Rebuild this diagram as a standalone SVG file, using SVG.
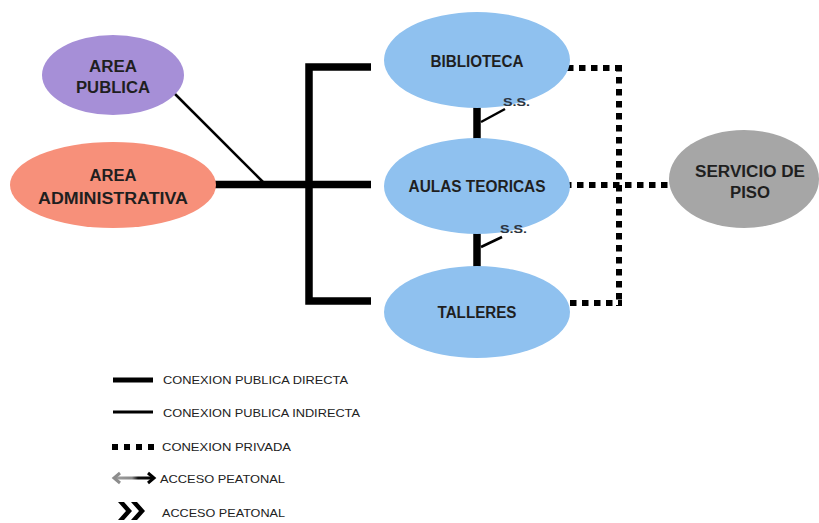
<svg xmlns="http://www.w3.org/2000/svg" width="819" height="523" viewBox="0 0 819 523">
<defs>
<style>
.lbl{font-family:"Liberation Sans",Arial,sans-serif;font-weight:bold;font-size:16px;fill:#1f1f1f;text-anchor:middle}
.ss{font-family:"Liberation Sans",Arial,sans-serif;font-weight:bold;font-size:11.5px;fill:#2b3440}
.leg{font-family:"Liberation Sans",Arial,sans-serif;font-size:11.5px;fill:#222}
.thick{stroke:#000;stroke-width:7.5;fill:none}
.thin{stroke:#000;stroke-width:2.5;fill:none}
.dot{stroke:#000;stroke-width:6;stroke-dasharray:6.5 5.5;fill:none}
</style>
<linearGradient id="ag" gradientUnits="userSpaceOnUse" x1="114" y1="478" x2="154" y2="478">
<stop offset="0" stop-color="#a0a0a0"/>
<stop offset="0.45" stop-color="#8a8a8a"/>
<stop offset="0.6" stop-color="#111"/>
<stop offset="1" stop-color="#000"/>
</linearGradient>
</defs>
<rect width="819" height="523" fill="#fff"/>

<g id="connectors">
<line class="thin" x1="158" y1="77" x2="263" y2="182"/>
<line class="thick" x1="213" y1="184.5" x2="371" y2="184.5"/>
<polyline class="thick" points="371,67 309,67 309,301 371,301"/>
<line class="thick" x1="477" y1="103" x2="477" y2="143"/>
<line class="thin" x1="481" y1="122" x2="505" y2="109"/>
<line class="thick" x1="477" y1="228" x2="477" y2="268"/>
<line class="thin" x1="481" y1="247" x2="502" y2="237"/>
<line class="dot" x1="555" y1="68" x2="622" y2="68"/>
<line class="dot" x1="619" y1="65" x2="619" y2="306"/>
<line class="dot" x1="558" y1="303" x2="622" y2="303"/>
<line class="dot" x1="565" y1="185" x2="682" y2="185"/>
</g>

<g id="area-publica">
<ellipse cx="113" cy="75" rx="71" ry="40" fill="#a68fd7"/>
<text class="lbl" x="113" y="72" textLength="48" lengthAdjust="spacingAndGlyphs">AREA</text>
<text class="lbl" x="113" y="93" textLength="74" lengthAdjust="spacingAndGlyphs">PUBLICA</text>
</g>

<g id="area-administrativa">
<ellipse cx="113" cy="185" rx="103" ry="43" fill="#f7907a"/>
<text class="lbl" x="113" y="181" textLength="47" lengthAdjust="spacingAndGlyphs">AREA</text>
<text class="lbl" x="113" y="204" textLength="150" lengthAdjust="spacingAndGlyphs">ADMINISTRATIVA</text>
</g>

<g id="biblioteca">
<ellipse cx="477" cy="60" rx="93" ry="48" fill="#8fc1ef"/>
<text class="lbl" x="477" y="67" textLength="93" lengthAdjust="spacingAndGlyphs">BIBLIOTECA</text>
</g>

<g id="aulas-teoricas">
<ellipse cx="477" cy="186" rx="93" ry="48" fill="#8fc1ef"/>
<text class="lbl" x="477" y="192" textLength="137" lengthAdjust="spacingAndGlyphs">AULAS TEORICAS</text>
</g>

<g id="talleres">
<ellipse cx="477" cy="312" rx="93" ry="46" fill="#8fc1ef"/>
<text class="lbl" x="477" y="318" textLength="79" lengthAdjust="spacingAndGlyphs">TALLERES</text>
</g>

<g id="servicio-de-piso">
<ellipse cx="744" cy="179" rx="75" ry="49" fill="#a6a6a6"/>
<text class="lbl" x="750" y="177" textLength="110" lengthAdjust="spacingAndGlyphs">SERVICIO DE</text>
<text class="lbl" x="750" y="198" textLength="40" lengthAdjust="spacingAndGlyphs">PISO</text>
</g>

<g id="ss-labels">
<text class="ss" x="503" y="106" textLength="27" lengthAdjust="spacingAndGlyphs">S.S.</text>
<text class="ss" x="500" y="233" textLength="27" lengthAdjust="spacingAndGlyphs">S.S.</text>
</g>

<g id="legend">
<line x1="113" y1="380" x2="153" y2="380" stroke="#000" stroke-width="5"/>
<text class="leg" x="163" y="384" textLength="185" lengthAdjust="spacingAndGlyphs">CONEXION PUBLICA DIRECTA</text>
<line x1="113" y1="412" x2="153" y2="412" stroke="#000" stroke-width="3"/>
<text class="leg" x="163" y="417" textLength="197" lengthAdjust="spacingAndGlyphs">CONEXION PUBLICA INDIRECTA</text>
<line x1="112" y1="447" x2="155" y2="447" stroke="#000" stroke-width="6" stroke-dasharray="6 6"/>
<text class="leg" x="162" y="451" textLength="129" lengthAdjust="spacingAndGlyphs">CONEXION PRIVADA</text>
<line x1="115" y1="478" x2="153" y2="478" stroke="url(#ag)" stroke-width="3"/>
<polyline points="120,473 114,478 120,483" stroke="#8c8c8c" stroke-width="3" fill="none"/>
<polyline points="148,473 154,478 148,483" stroke="#000" stroke-width="3" fill="none"/>
<text class="leg" x="160" y="483" textLength="125" lengthAdjust="spacingAndGlyphs">ACCESO PEATONAL</text>
<polygon points="118,502 124,502 132,511 124,520 118,520 126,511" fill="#000"/>
<polygon points="131,502 137,502 145,511 137,520 131,520 139,511" fill="#000"/>
<text class="leg" x="162" y="517" textLength="123" lengthAdjust="spacingAndGlyphs">ACCESO PEATONAL</text>
</g>
</svg>
